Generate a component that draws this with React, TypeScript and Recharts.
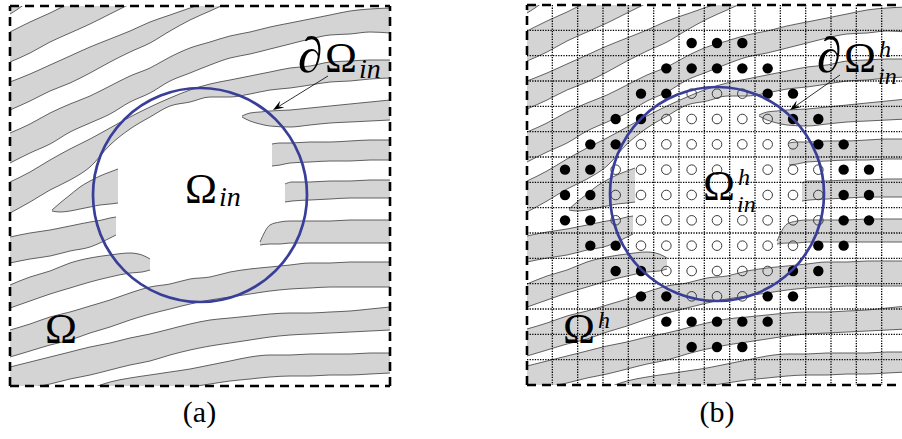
import React from "react";
import {
  ComposedChart,
  Area,
  Scatter,
  XAxis,
  YAxis,
  CartesianGrid,
  ReferenceDot,
  ReferenceLine,
} from "recharts";

// Panel space is 380 x 380 units, v measured down from the top border.
const SIZE = 380;
const SERIF = "Liberation Serif, DejaVu Serif, serif";

// Gray stripes: [u, upper edge, lower edge]
const bandCorner = [[0, -8, 8], [8, -8, 3], [16, -8, -3]];
const bandB1 = [[0, 26, 56], [20, 16, 47], [40, 7, 36], [60, -3, 27], [80, -13, 18], [100, -23, 8], [120, -33, -2]];
const bandW = [
  [0, 76, 104], [20, 68, 95], [40, 59, 85], [60, 50, 77], [80, 41, 67], [100, 33, 56], [120, 25, 46],
  [140, 16, 37], [160, 9, 25], [180, 2, 14], [200, -5, 5], [220, -12, -4],
];
const bandT = [
  [0, 127, 157], [20, 118, 147], [40, 107, 138], [60, 98, 126], [80, 90, 117], [100, 80, 108], [120, 70, 96],
  [140, 62, 87], [160, 51, 75], [180, 42, 67], [200, 36, 59], [220, 30, 52], [240, 26, 48], [260, 21, 43],
  [280, 17, 38], [300, 13, 33], [320, 9, 29], [340, 5, 28], [360, 3, 26], [380, 2, 27],
];
const bandM = [
  [0, 176, 207], [20, 166, 196], [40, 154, 184], [60, 143, 174], [80, 133, 161], [100, 122, 139], [120, 111, 123],
  [140, 101, 111], [160, 92, 100], [180, 84, 96], [200, 78, 91], [220, 74, 91], [240, 70, 88], [260, 66, 84],
  [280, 62, 82], [300, 60, 79], [320, 56, 76], [340, 55, 75], [360, 54, 73], [380, 54, 72],
];
const bandIsland = [[42, 204, 205], [50, 197, 206], [60, 189, 205], [70, 181, 203], [80, 175, 201], [90, 170, 199], [100, 166, 198], [108, 163, 197]];
const bandD = [[0, 231, 257], [20, 227, 253], [40, 224, 250], [60, 220, 245], [80, 216, 241], [92, 214, 236], [100, 212, 232], [106, 211, 229]];
const bandE = [[0, 279, 302], [20, 271, 295], [40, 265, 288], [60, 257, 282], [80, 252, 276], [100, 249, 271], [120, 247, 267], [132, 249, 266], [140, 253, 264]];
const bandK = [
  [0, 324, 351], [20, 318, 345], [40, 311, 339], [60, 306, 334], [80, 300, 327], [100, 294, 321], [120, 287, 314],
  [140, 281, 308], [160, 278, 303], [180, 273, 298], [200, 271, 294], [220, 266, 291], [240, 263, 288], [260, 261, 285],
  [280, 259, 283], [300, 257, 282], [320, 257, 281], [340, 256, 281], [360, 256, 281], [380, 256, 281],
];
const bandH = [
  [0, 361, 386], [20, 356, 382], [40, 351, 378], [60, 346, 373], [80, 341, 369], [100, 337, 364], [120, 332, 359],
  [140, 328, 355], [160, 323, 349], [180, 318, 344], [200, 314, 340], [220, 312, 337], [240, 310, 334], [260, 308, 331],
  [280, 307, 329], [300, 307, 328], [320, 306, 327], [340, 305, 326], [360, 303, 325], [380, 301, 324],
];
const bandI = [
  [80, 383, 396], [100, 376, 393], [120, 372, 390], [140, 369, 387], [160, 366, 384], [180, 363, 381], [200, 359, 378],
  [220, 355, 375], [240, 351, 373], [260, 349, 371], [280, 349, 370], [300, 348, 370], [320, 348, 369], [340, 348, 369],
  [360, 347, 368], [380, 347, 367],
];
const bandR1 = [[232, 110, 111], [240, 107, 115], [250, 106, 118], [260, 105, 120], [280, 104, 121], [300, 102, 119], [320, 100, 117], [340, 98, 116], [360, 96, 115], [380, 94, 114]];
const bandR2 = [[262, 138, 160], [270, 137, 159], [280, 137, 157], [300, 136, 156], [320, 136, 155], [340, 135, 155], [360, 134, 154], [380, 134, 154]];
const bandR3 = [[275, 178, 196], [282, 176, 195], [300, 176, 194], [320, 175, 193], [340, 175, 192], [360, 174, 192], [380, 174, 192]];
const bandR4 = [[250, 236, 239], [260, 219, 238], [270, 216, 238], [280, 215, 237], [300, 215, 237], [320, 215, 237], [340, 214, 237], [360, 214, 237], [380, 214, 237]];

const bands = [bandCorner, bandB1, bandW, bandT, bandM, bandIsland, bandD, bandE, bandK, bandH, bandI, bandR1, bandR2, bandR3, bandR4];

// Inner disc
const disc = { u: 190, v: 189, r: 107 };

// Lattice of panel (b): 15 x 15 cells, nodes at cell centres
const CELLS = 15;
const gridLines = [1, 2, 3, 4, 5, 6, 7, 8, 9, 10, 11, 12, 13, 14];
const filledRows = [
  { row: 1, cols: [6, 7, 8] },
  { row: 2, cols: [5, 6, 7, 8, 9] },
  { row: 3, cols: [4, 5, 9, 10] },
  { row: 4, cols: [3, 4, 10, 11] },
  { row: 5, cols: [2, 3, 11, 12] },
  { row: 6, cols: [1, 2, 12, 13] },
  { row: 7, cols: [1, 2, 12, 13] },
  { row: 8, cols: [1, 2, 12, 13] },
  { row: 9, cols: [2, 3, 11, 12] },
  { row: 10, cols: [3, 4, 10, 11] },
  { row: 11, cols: [4, 5, 9, 10] },
  { row: 12, cols: [5, 6, 7, 8, 9] },
  { row: 13, cols: [6, 7, 8] },
];
const hollowRows = [
  { row: 3, cols: [6, 7, 8] },
  { row: 4, cols: [5, 6, 7, 8, 9] },
  { row: 5, cols: [4, 5, 6, 7, 8, 9, 10] },
  { row: 6, cols: [3, 4, 5, 6, 7, 9, 10, 11] },
  { row: 7, cols: [3, 4, 5, 6, 9, 10, 11] },
  { row: 8, cols: [3, 4, 5, 6, 7, 8, 9, 10, 11] },
  { row: 9, cols: [4, 5, 6, 7, 8, 9, 10] },
  { row: 10, cols: [5, 6, 7, 8, 9] },
  { row: 11, cols: [6, 7, 8] },
];

const toRows = (band: number[][]) => band.map(([u, top, bot]) => ({ u, range: [top, bot] }));
const toNodes = (rows: { row: number; cols: number[] }[]) =>
  rows.flatMap(({ row, cols }) => cols.map((c) => ({ cx: c + 0.5, cy: row + 0.5 })));

const filledNodes = toNodes(filledRows);
const hollowNodes = toNodes(hollowRows);

const FilledDot = (p: any) => <circle cx={p.cx} cy={p.cy} r={5.2} fill="#000" />;
const HollowDot = (p: any) => <circle cx={p.cx} cy={p.cy} r={4.8} fill="none" stroke="#3a3a3a" strokeWidth={1} />;

// math-style label: optional ∂, Ω, then stacked super/subscripts
type MathSpec = { partial?: boolean; sup?: string; sub?: string };
function mathLabel({ partial, sup, sub }: MathSpec) {
  return (p: any) => {
    const omegaX = partial ? p.cx + 27 : p.cx;
    const scriptX = omegaX + 34;
    const subY = sup ? p.cy + 12 : p.cy + (partial ? 6 : 3);
    return (
      <g fontFamily={SERIF} fill="#000">
        {partial && <text x={p.cx} y={p.cy} fontSize={50}>∂</text>}
        <text x={omegaX} y={p.cy} fontSize={43}>Ω</text>
        {sup && <text x={scriptX + 1} y={p.cy - 15} fontSize={24} fontStyle="italic">{sup}</text>}
        {sub && <text x={scriptX} y={subY} fontSize={sup ? 24 : 28} fontStyle="italic">{sub}</text>}
      </g>
    );
  };
}

const arrowShape = (p: any) => {
  const { x1, y1, x2, y2 } = p;
  const a = Math.atan2(y2 - y1, x2 - x1);
  const c = Math.cos(a);
  const s = Math.sin(a);
  const len = 11;
  const half = 4;
  const bx = x2 - len * c;
  const by = y2 - len * s;
  const nx = x2 - len * 0.6 * c;
  const ny = y2 - len * 0.6 * s;
  const d = `M${x2},${y2} L${bx - half * s},${by + half * c} L${nx},${ny} L${bx + half * s},${by - half * c} Z`;
  return (
    <g>
      <line x1={x1} y1={y1} x2={nx} y2={ny} stroke="#000" strokeWidth={0.8} />
      <path d={d} fill="#000" />
    </g>
  );
};

// dashed frame, one side at a time
const frame = { stroke: "#000", strokeWidth: 2.6, strokeDasharray: "9 6", ifOverflow: "visible" as const };

function Panel({ lattice }: { lattice?: boolean }) {
  return (
    <ComposedChart width={388} height={388} margin={{ top: 4, right: 4, bottom: 4, left: 4 }}>
      <XAxis type="number" dataKey="u" domain={[0, SIZE]} hide allowDataOverflow />
      <YAxis type="number" domain={[0, SIZE]} reversed hide allowDataOverflow />
      <XAxis xAxisId="g" type="number" dataKey="cx" domain={[0, CELLS]} hide allowDataOverflow />
      <YAxis yAxisId="g" type="number" dataKey="cy" domain={[0, CELLS]} reversed hide allowDataOverflow />

      {bands.map((b, i) => (
        <Area
          key={i}
          data={toRows(b)}
          dataKey="range"
          type="monotoneX"
          fill="#d4d4d4"
          fillOpacity={1}
          stroke="#505050"
          strokeWidth={0.9}
          dot={false}
          activeDot={false}
          isAnimationActive={false}
        />
      ))}

      {lattice && (
        <CartesianGrid
          xAxisId="g"
          yAxisId="g"
          verticalValues={gridLines}
          horizontalValues={gridLines}
          stroke="#000"
          strokeWidth={1.3}
          strokeDasharray="1.3 1.3"
          zIndex={150}
        />
      )}

      {lattice && (
        <Scatter xAxisId="g" yAxisId="g" data={hollowNodes} shape={HollowDot} isAnimationActive={false} />
      )}
      {lattice && (
        <Scatter xAxisId="g" yAxisId="g" data={filledNodes} shape={FilledDot} isAnimationActive={false} />
      )}

      <ReferenceDot x={disc.u} y={disc.v} r={disc.r} fill="none" stroke="#393f99" strokeWidth={2.7} ifOverflow="visible" />

      {lattice ? (
        <>
          <ReferenceLine segment={[{ x: 313, y: 70 }, { x: 263, y: 105 }]} shape={arrowShape} ifOverflow="visible" />
          <ReferenceDot x={290} y={67} r={0} shape={mathLabel({ partial: true, sup: "h", sub: "in" })} ifOverflow="visible" />
          <ReferenceDot x={176} y={195} r={0} shape={mathLabel({ sup: "h", sub: "in" })} ifOverflow="visible" />
          <ReferenceDot x={36} y={338} r={0} shape={mathLabel({ sup: "h" })} ifOverflow="visible" />
        </>
      ) : (
        <>
          <ReferenceLine segment={[{ x: 318, y: 70 }, { x: 263, y: 104 }]} shape={arrowShape} ifOverflow="visible" />
          <ReferenceDot x={288} y={66} r={0} shape={mathLabel({ partial: true, sub: "in" })} ifOverflow="visible" />
          <ReferenceDot x={175} y={197} r={0} shape={mathLabel({ sub: "in" })} ifOverflow="visible" />
          <ReferenceDot x={35} y={337} r={0} shape={mathLabel({})} ifOverflow="visible" />
        </>
      )}

      <ReferenceLine y={0} {...frame} />
      <ReferenceLine y={SIZE} {...frame} />
      <ReferenceLine x={0} {...frame} />
      {!lattice && <ReferenceLine x={SIZE} {...frame} />}
    </ComposedChart>
  );
}

export default function App() {
  return (
    <div style={{ position: "absolute", left: 0, top: 0, width: 902, height: 439, overflow: "hidden", background: "#fff" }}>
      <style>{"html, body { margin: 0; overflow: hidden; }"}</style>
      <svg width={902} height={439} style={{ position: "absolute", left: 0, top: 0 }}>
        <text x={199.5} y={422} textAnchor="middle" fontSize={30} fontFamily={SERIF}>(a)</text>
        <text x={717} y={422} textAnchor="middle" fontSize={30} fontFamily={SERIF}>(b)</text>
      </svg>
      <div style={{ position: "absolute", left: 6, top: 2, width: 388, height: 388 }}>
        <Panel />
      </div>
      <div style={{ position: "absolute", left: 523, top: 1, width: 379, height: 388, overflow: "hidden" }}>
        <div style={{ width: 388, height: 388 }}>
          <Panel lattice />
        </div>
      </div>
    </div>
  );
}
